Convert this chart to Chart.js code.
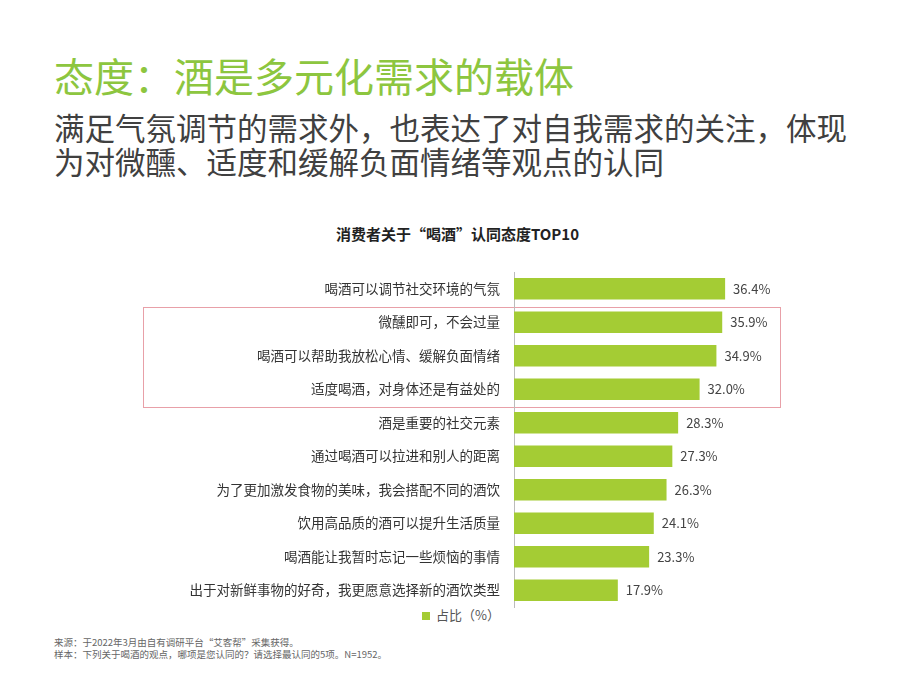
<!DOCTYPE html>
<html><head><meta charset="utf-8">
<script src="https://cdn.jsdelivr.net/npm/chart.js@4"></script>
<style>
body{margin:0;width:920px;height:690px;position:relative;background:#fff;font-family:"Noto Sans CJK SC",sans-serif;overflow:hidden}
.t{position:absolute;white-space:nowrap}
</style></head><body>
<div class="t" style="left:54px;top:46px;font-size:40px;color:#8dc63f">态度：酒是多元化需求的载体</div>
<div class="t" style="left:54px;top:110px;font-size:30.5px;color:#404040;line-height:34px">满足气氛调节的需求外，也表达了对自我需求的关注，体现<br>为对微醺、适度和缓解负面情绪等观点的认同</div>
<div class="t" style="left:0;width:915px;text-align:center;top:223px;font-size:15px;font-weight:bold;color:#222">消费者关于“喝酒”认同态度TOP10</div>
<div class="t" style="left:143px;top:307px;width:636px;height:99px;border:1px solid #e8a0a8"></div>
<div class="t" style="left:422px;top:605px;font-size:13px;color:#555"><span style="display:inline-block;width:8px;height:8px;background:#a4cc34;margin-right:6px"></span>占比（%）</div>
<div class="t" style="left:54px;top:636px;font-size:9.5px;color:#666;line-height:12px">来源：于2022年3月由自有调研平台“艾客帮”采集获得。<br>样本：下列关于喝酒的观点，哪项是您认同的？请选择最认同的5项。N=1952。</div>
<canvas id="c" style="position:absolute;left:0;top:0"></canvas>
<script>
const categories=["喝酒可以调节社交环境的气氛","微醺即可，不会过量","喝酒可以帮助我放松心情、缓解负面情绪","适度喝酒，对身体还是有益处的","酒是重要的社交元素","通过喝酒可以拉进和别人的距离","为了更加激发食物的美味，我会搭配不同的酒饮","饮用高品质的酒可以提升生活质量","喝酒能让我暂时忘记一些烦恼的事情","出于对新鲜事物的好奇，我更愿意选择新的酒饮类型"];
const values=[36.4,35.9,34.9,32.0,28.3,27.3,26.3,24.1,23.3,17.9];
const cv=document.getElementById('c');cv.width=920;cv.height=690;
const lbl={id:'lbl',afterDatasetsDraw(ch){const c=ch.ctx;const m=ch.getDatasetMeta(0);c.save();c.font='13px "Noto Sans CJK SC"';c.fillStyle='#444';c.textBaseline='middle';m.data.forEach((b,i)=>c.fillText(values[i].toFixed(1)+'%',b.x+8,b.y));c.restore();}};
new Chart(cv,{type:'bar',data:{labels:categories,datasets:[{data:values,backgroundColor:'#a4cc34',barPercentage:0.64,categoryPercentage:1}]},
options:{indexAxis:'y',responsive:false,animation:false,layout:{padding:{top:272,bottom:83,left:0,right:116}},
plugins:{legend:{display:false},tooltip:{enabled:false}},
scales:{x:{display:false,min:0,max:50},y:{afterFit(s){s.width=514;},grid:{display:false,drawTicks:false},border:{color:'#bbb'},ticks:{color:'#333',padding:14,font:{size:13.5,family:'"Noto Sans CJK SC"'}}}}},plugins:[lbl]});
</script></body></html>
